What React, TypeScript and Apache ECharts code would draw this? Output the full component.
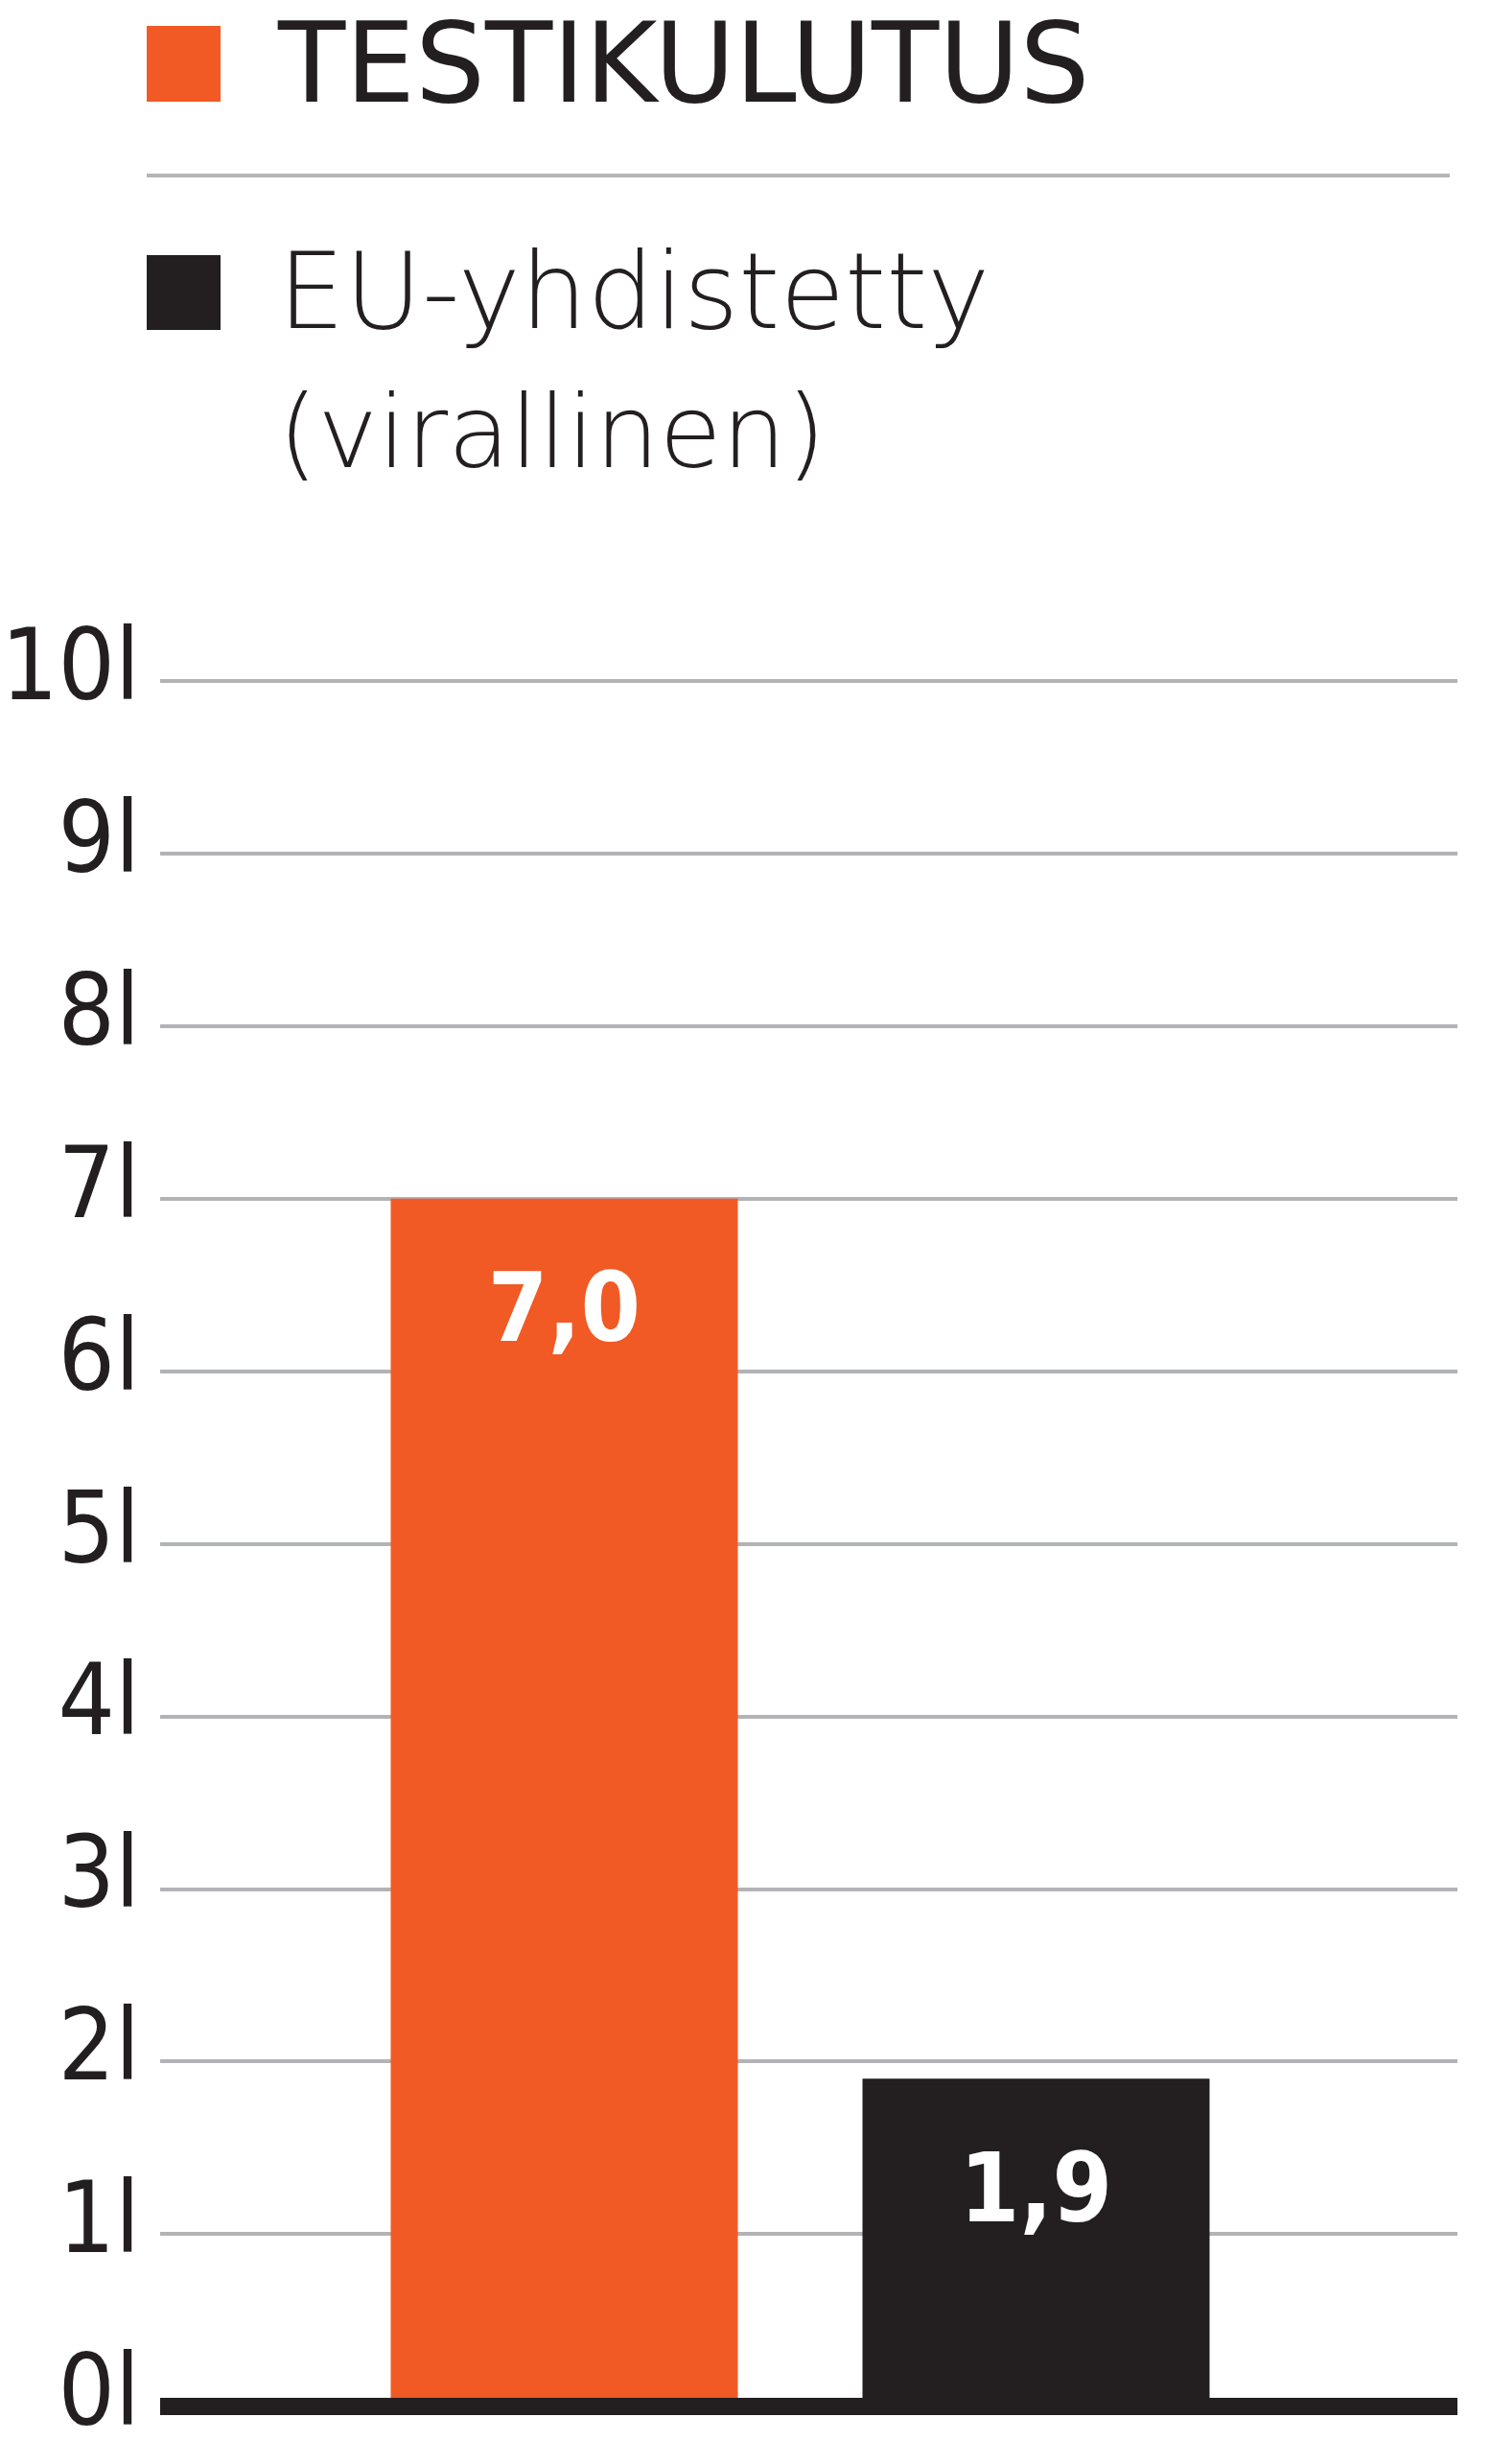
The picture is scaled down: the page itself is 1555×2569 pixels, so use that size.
import React, { useEffect, useRef } from "react";
import * as echarts from "echarts";

const categories = ["TESTIKULUTUS", "EU-yhdistetty (virallinen)"];
const values = [7.0, 1.9];
const barColors = ["#F15A24", "#231F20"];
const yMin = 0;
const yMax = 10;
const yInterval = 1;
const yUnit = "l";
const legendLine1 = ["TESTIKULUTUS"];
const legendLine2 = ["EU-yhdistetty", "(virallinen)"];

const COND = '"DejaVu Sans Condensed", "DejaVu Sans", sans-serif';
const SANS = '"DejaVu Sans", sans-serif';
const INK = "#231F20";

export default function App() {
  const ref = useRef<HTMLDivElement>(null);
  useEffect(() => {
    if (!ref.current) return;
    const chart = echarts.init(ref.current, undefined, { renderer: "svg" });
    const graphic: any[] = [
      { type: "rect", shape: { x: 153, y: 27, width: 77, height: 79 }, style: { fill: barColors[0] } },
      {
        type: "text",
        x: 290,
        y: 66,
        style: { text: legendLine1[0], fontFamily: SANS, fontWeight: "normal", fontSize: 115, lineHeight: 110, fill: INK, verticalAlign: "middle", align: "left" },
      },
      { type: "line", shape: { x1: 153, y1: 183, x2: 1512, y2: 183 }, style: { stroke: "#b5b5b5", lineWidth: 4 } },
      { type: "rect", shape: { x: 153, y: 266, width: 77, height: 78 }, style: { fill: barColors[1] } },
      {
        type: "text",
        x: 290,
        y: 304,
        style: { text: legendLine2[0], fontFamily: SANS, fontWeight: 200, fontSize: 110, fill: INK, verticalAlign: "middle", align: "left" },
      },
      {
        type: "text",
        x: 290,
        y: 450,
        style: { text: legendLine2[1], fontFamily: SANS, fontWeight: 200, fontSize: 106, fill: INK, verticalAlign: "middle", align: "left" },
      },
    ];
    chart.setOption({
      animation: false,
      backgroundColor: "#ffffff",
      grid: [
        { left: 167, top: 710, width: 1353, height: 1799, outerBoundsMode: "none", containLabel: false },
        { left: 342.5, top: 710, width: 984, height: 1799, outerBoundsMode: "none", containLabel: false },
      ],
      xAxis: [
        {
          gridIndex: 0,
          type: "category",
          data: [""],
          z: 10,
          axisLine: { show: true, lineStyle: { color: INK, width: 18, cap: "butt" } },
          axisTick: { show: false },
          axisLabel: { show: false },
          splitLine: { show: false },
        },
        { gridIndex: 1, type: "category", data: categories, show: false },
      ],
      yAxis: [
        {
          gridIndex: 0,
          type: "value",
          min: yMin,
          max: yMax,
          interval: yInterval,
          axisLine: { show: false },
          axisTick: { show: false },
          splitLine: { show: true, lineStyle: { color: "#b1b3b6", width: 4 } },
          axisLabel: {
            formatter: (v: number) => `${v}${yUnit}`,
            fontSize: 104,
            lineHeight: 34,
            verticalAlign: "bottom",
            fontFamily: COND,
            color: INK,
            margin: 21,
          },
        },
        { gridIndex: 1, type: "value", min: yMin, max: yMax, interval: yInterval, show: false },
      ],
      series: [
        {
          type: "bar",
          xAxisIndex: 1,
          yAxisIndex: 1,
          barWidth: 362,
          data: values.map((v, i) => ({ value: v, itemStyle: { color: barColors[i] } })),
          label: {
            show: true,
            position: "insideTop",
            distance: 64,
            formatter: (p: any) => Number(p.value).toFixed(1).replace(".", ","),
            color: "#ffffff",
            fontSize: 100,
            fontWeight: "bold",
            fontFamily: COND,
          },
        },
      ],
      graphic,
    });
    return () => chart.dispose();
  }, []);
  return <div ref={ref} style={{ position: "absolute", left: 0, top: 0, width: 1555, height: 2569 }} />;
}
